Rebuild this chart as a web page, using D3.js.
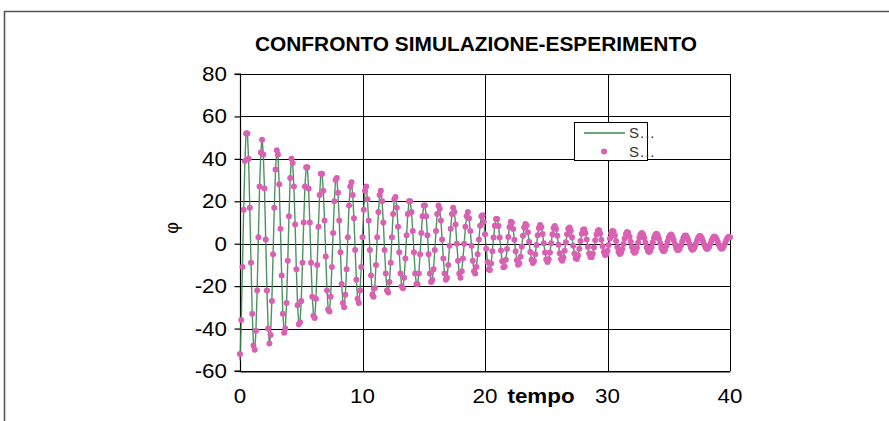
<!DOCTYPE html>
<html><head><meta charset="utf-8">
<script src="https://cdn.jsdelivr.net/npm/d3@7"></script>
<style>html,body{margin:0;padding:0;background:#fff;} svg{display:block;font-family:"Liberation Sans",Arial,sans-serif;}</style>
</head><body><svg id="chart" width="889" height="421"></svg>
<script>
const title = "CONFRONTO SIMULAZIONE-ESPERIMENTO";
const xLabel = "tempo";
const yLabel = "φ";
const xTicks = [0, 10, 20, 30, 40];
const yTicks = [-60, -40, -20, 0, 20, 40, 60, 80];
const legendLabels = ["S...", "S..."];
const dt = 0.1; // sampling step of both series (s)

const esperimento = [
-52,-36,-11,16,39,52,52,40,17,-9,
-33,-48,-50,-41,-22,3,27,43,49,42,
26,2,-22,-40,-47,-43,-27,-5,17,35,
44,42,28,7,-15,-33,-42,-40,-28,-8,
13,31,40,38,27,9,-12,-29,-38,-37,
-27,-9,10,27,36,36,26,10,-9,-25,
-34,-35,-26,-10,8,23,33,33,25,11,
-6,-22,-31,-32,-25,-11,5,20,30,31,
24,11,-4,-19,-28,-30,-24,-12,3,18,
27,29,23,12,-3,-17,-26,-28,-22,-11,
3,16,25,27,21,11,-3,-15,-24,-25,
-21,-10,3,15,23,25,20,10,-3,-14,
-22,-23,-18,-9,3,14,21,22,17,8,
-4,-14,-20,-21,-16,-7,4,14,20,20,
15,6,-4,-14,-19,-19,-14,-5,5,13,
18,18,13,4,-5,-14,-18,-17,-12,-3,
6,14,18,16.5,11,2,-7,-14,-17,-16,
-10,-1,7,14,17,15,9,0,-8,-14,
-16,-13,-7,0,8,13,15,12,6,-1,
-8,-13,-14,-11,-5,2,8.5,13,13.4,10.3,
4.5,-2.4,-8.6,-12.2,-12.4,-9.3,-3.6,2.9,8.5,11.6,
11.6,8.3,2.9,-3.2,-8.3,-11.1,-10.7,-7.6,-2.5,3.2,
7.9,10.4,10.0,6.9,1.9,-3.5,-7.8,-9.9,-9.2,-6.1,
-1.3,3.7,7.6,9.3,8.6,5.4,0.9,-3.9,-7.6,-9.1,
-8.2,-5.0,-0.6,4.0,7.4,8.8,7.8,4.6,0.2,-4.2,
-7.4,-8.6,-7.3,-4.1,0.2,4.5,7.4,8.3,6.9,3.7,
-0.5,-4.5,-7.2,-8.0,-6.5,-3.3,0.7,4.5,7.0,7.7,
6.1,3.0,-1.0,-4.6,-6.9,-7.2,-5.6,-2.4,1.3,4.7,
6.6,6.8,5.1,2.0,-1.5,-4.6,-6.3,-6.4,-4.7,-1.8,
1.6,4.4,6.0,6.5,4.8,1.9,-1.2,-3.9,-5.3,-5.1,
-3.3,-0.6,2.4,4.9,6.0,5.7,3.9,1.3,-1.5,-3.8,
-4.8,-4.4,-2.6,-0.1,2.5,4.6,5.5,5.1,3.3,0.9,
-1.6,-3.5,-4.3,-3.8,-2.0,0.4,2.8,4.5,5.1,4.5,
2.7,0.4,-1.8,-3.4,-3.9,-3.2,-1.5,0.7,2.8,4.2,
4.7,4.0,2.3,0.2,-1.9,-3.2,-3.5,-2.7,-1.0,1.0,
2.9,4.0,4.3,3.4,1.8,-0.1,-1.9,-3.0,-3.0,-2.2,
-0.7,1.2,2.8,3.8,3.9,3.1,1.5,-0.3,-1.9,-2.8,
-2.7,-1.8,-0.3,1.4,2.8,3.6,3.5,2.6,1.1,-0.5,
-1.8,-2.5,-2.3,-1.4,0.0,1.5,2.7,3.4,3.2,2.3,
0.9,-0.6,-1.8,-2.4,-2.1,-1.1,0.3,1.7,2.8,3.3,
3.0];

const simulazione = [
-55,-37,-11,16,39,53,53,40,17,-9,
-33,-48,-51,-41,-22,3,27,43,50,42,
26,2,-22,-40,-47,-43,-27,-5,17,35,
44,42,28,7,-15,-33,-42,-40,-28,-8,
13,31,40,38,27,9,-12,-29,-38,-37,
-27,-9,10,27,36,36,26,10,-9,-25,
-34,-35,-26,-10,8,23,33,33,25,11,
-6,-22,-31,-32,-25,-11,5,20,30,31,
24,11,-4,-19,-28,-30,-24,-12,3,18,
27,29,23,12,-3,-17,-26,-28,-22,-11,
3,16,25,27,21,11,-3,-15,-24,-25,
-21,-10,3,15,23,25,20,10,-3,-14,
-22,-23,-18,-9,3,14,21,22,17,8,
-4,-14,-20,-21,-16,-7,4,14,20,20,
15,6,-4,-14,-19,-19,-14,-5,5,13,
18,18,13,4,-5,-14,-18,-17,-12,-3,
6,14,18,16.5,11,2,-7,-14,-17,-16,
-10,-1,7,14,17,15,9,0,-8,-14,
-16,-13,-7,0,8,13,15,12,6,-1,
-8,-13,-14,-11,-5,2,8.5,13,13.4,10.3,
4.5,-2.4,-8.6,-12.2,-12.4,-9.3,-3.6,2.9,8.5,11.6,
11.6,8.3,2.9,-3.2,-8.3,-11.1,-10.7,-7.6,-2.5,3.2,
7.9,10.4,10.0,6.9,1.9,-3.5,-7.8,-9.9,-9.2,-6.1,
-1.3,3.7,7.6,9.3,8.6,5.4,0.9,-3.9,-7.6,-9.1,
-8.2,-5.0,-0.6,4.0,7.4,8.8,7.8,4.6,0.2,-4.2,
-7.4,-8.6,-7.3,-4.1,0.2,4.5,7.4,8.3,6.9,3.7,
-0.5,-4.5,-7.2,-8.0,-6.5,-3.3,0.7,4.5,7.0,7.7,
6.1,3.0,-1.0,-4.6,-6.9,-7.2,-5.6,-2.4,1.3,4.7,
6.6,6.8,5.1,2.0,-1.5,-4.6,-6.3,-6.4,-4.7,-1.8,
1.6,4.4,6.0,6.5,4.8,1.9,-1.2,-3.9,-5.3,-5.1,
-3.3,-0.6,2.4,4.9,6.0,5.7,3.9,1.3,-1.5,-3.8,
-4.8,-4.4,-2.6,-0.1,2.5,4.6,5.5,5.1,3.3,0.9,
-1.6,-3.5,-4.3,-3.8,-2.0,0.4,2.8,4.5,5.1,4.5,
2.7,0.4,-1.8,-3.4,-3.9,-3.2,-1.5,0.7,2.8,4.2,
4.7,4.0,2.3,0.2,-1.9,-3.2,-3.5,-2.7,-1.0,1.0,
2.9,4.0,4.3,3.4,1.8,-0.1,-1.9,-3.0,-3.0,-2.2,
-0.7,1.2,2.8,3.8,3.9,3.1,1.5,-0.3,-1.9,-2.8,
-2.7,-1.8,-0.3,1.4,2.8,3.6,3.5,2.6,1.1,-0.5,
-1.8,-2.5,-2.3,-1.4,0.0,1.5,2.7,3.4,3.2,2.3,
0.9,-0.6,-1.8,-2.4,-2.1,-1.1,0.3,1.7,2.8,3.3,
3.0];

const tempo = esperimento.map((_, i) => Math.round(i * dt * 10) / 10);

const svg = d3.select("#chart");
const W = 889, H = 421;
const plot = {left: 240, right: 730, top: 74, bottom: 371};
const x = d3.scaleLinear().domain([0, 40]).range([plot.left, plot.right]);
const y = d3.scaleLinear().domain([-60, 80]).range([plot.bottom, plot.top]);

svg.append("rect").attr("width", W).attr("height", H).attr("fill", "#fff");

// outer chart-area frame (partially cropped)
svg.append("path").attr("d", `M4.5,${H} V11.5 H${W}`)
  .attr("fill", "none").attr("stroke", "#555").attr("stroke-width", 1.6);

// title
svg.append("text").attr("x", 476).attr("y", 51).attr("text-anchor", "middle")
  .attr("font-size", 19.5).attr("font-weight", "bold").attr("fill", "#000")
  .attr("textLength", 442).attr("lengthAdjust", "spacingAndGlyphs")
  .text(title);

// gridlines
const grid = svg.append("g").attr("stroke", "#000").attr("stroke-width", 1).attr("shape-rendering", "crispEdges");
grid.selectAll("line.h").data(yTicks).join("line")
  .attr("x1", plot.left).attr("x2", plot.right)
  .attr("y1", d => Math.round(y(d)) + 0.5).attr("y2", d => Math.round(y(d)) + 0.5);
grid.selectAll("line.v").data(xTicks.slice(1)).join("line")
  .attr("x1", d => Math.round(x(d)) + 0.5).attr("x2", d => Math.round(x(d)) + 0.5)
  .attr("y1", plot.top).attr("y2", plot.bottom);

// axes
const yAxis = d3.axisLeft(y).tickValues(yTicks).tickSize(6).tickFormat("");
const gy = svg.append("g").attr("transform", `translate(${plot.left + 0.5},0)`).call(yAxis);
gy.selectAll("path,line").attr("stroke", "#000").attr("stroke-width", 1.2);
gy.select(".domain").attr("d", `M-6,${y(80)}H0V${y(-60)}H-6`);

const xAxis = d3.axisBottom(x).tickValues(xTicks).tickSize(0).tickFormat("");
const gx = svg.append("g").attr("transform", `translate(0,${plot.bottom + 0.5})`).call(xAxis);
gx.selectAll("path").attr("stroke", "#000").attr("stroke-width", 1.2);

// tick labels (horizontally stretched like the original)
const sx = 1.12;
svg.append("g").selectAll("g").data(yTicks).join("g")
  .attr("transform", d => `translate(227,${y(d) + 7}) scale(${sx},1)`)
  .append("text").attr("text-anchor", "end").attr("font-size", 20).attr("fill", "#000")
  .text(d => d);
svg.append("g").selectAll("g").data(xTicks).join("g")
  .attr("transform", d => `translate(${x(d)},403) scale(${sx},1)`)
  .append("text").attr("text-anchor", "middle").attr("font-size", 20).attr("fill", "#000")
  .text(d => d);

// axis titles
svg.append("g").attr("transform", `translate(541,403) scale(${sx},1)`)
  .append("text").attr("text-anchor", "middle").attr("font-size", 20).attr("font-weight", "bold")
  .attr("fill", "#000").text(xLabel);
svg.append("text").attr("transform", "translate(178,228) rotate(-90)")
  .attr("text-anchor", "middle").attr("font-size", 18).attr("fill", "#000").text(yLabel);

// data
const line = d3.line().x((d, i) => x(tempo[i])).y(d => y(d));
svg.append("path").datum(simulazione).attr("d", line)
  .attr("fill", "none").attr("stroke", "#3c8650").attr("stroke-width", 1.4).attr("stroke-opacity", 0.9);
svg.append("g").selectAll("circle").data(esperimento).join("circle")
  .attr("cx", (d, i) => x(tempo[i])).attr("cy", d => y(d)).attr("r", 3)
  .attr("fill", "#d960b2");

// legend
const lg = svg.append("g");
lg.append("rect").attr("x", 574.5).attr("y", 122.5).attr("width", 73).attr("height", 38)
  .attr("fill", "#fff").attr("stroke", "#000").attr("stroke-width", 1);
lg.append("line").attr("x1", 584).attr("x2", 625).attr("y1", 133).attr("y2", 133)
  .attr("stroke", "#3c8650").attr("stroke-width", 1.5);
lg.append("circle").attr("cx", 604).attr("cy", 151.5).attr("r", 3).attr("fill", "#d960b2");
lg.selectAll("text").data(legendLabels).join("text")
  .attr("x", 629).attr("y", (d, i) => 138 + i * 19)
  .attr("font-size", 15).attr("letter-spacing", 1).attr("fill", "#333").text(d => d);
</script></body></html>
